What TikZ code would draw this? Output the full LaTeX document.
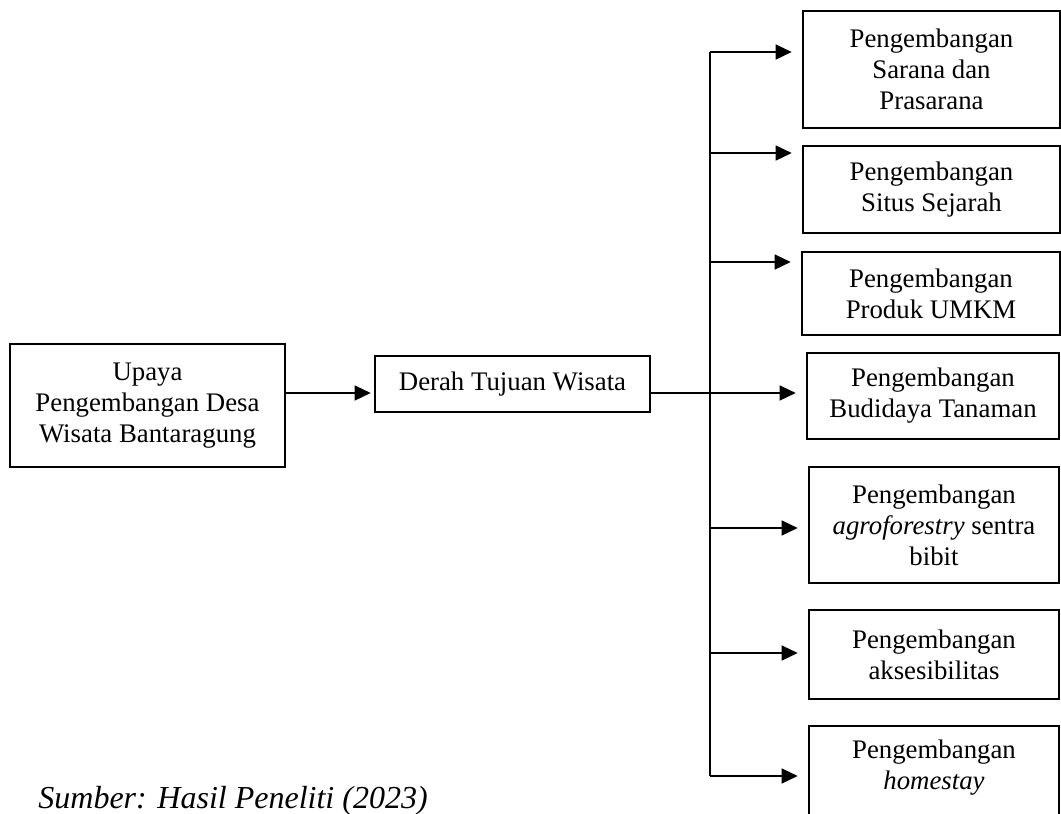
\documentclass[tikz,border=0pt]{standalone}
\usepackage{fontspec}
\setmainfont{Liberation Serif}
\usetikzlibrary{arrows.meta}

\tikzset{
  box/.style={draw, line width=1.3pt, align=center, inner sep=0pt,
    font=\fontsize{13.4}{15.5}\selectfont},
  link/.style={line width=0.7pt},
  arr/.style={link, -{Triangle[length=8pt,width=7.5pt]}},
  branch/.style={arr, shorten >=5pt}
}

\begin{document}
\begin{tikzpicture}
% 1 unit = 1px of the 1061x814 sheet, y runs downward
[x=0.5pt, y=-0.5pt]
\useasboundingbox (0,0) rectangle (1061,814);
\clip (0,0) rectangle (1061,814);

% left side
\node[box, minimum width=137.5pt, minimum height=61.5pt] (upaya) at (147.5,405.5)
  {Upaya\\Pengembangan Desa\\Wisata Bantaragung};
\node[box, minimum width=137.5pt, minimum height=28pt] (derah) at (512.5,384)
  {Derah Tujuan Wisata};

% right column
\node[box, minimum width=128.5pt, minimum height=58.5pt] (sarana) at (931.5,69.5)
  {Pengembangan\\Sarana dan\\Prasarana};
\node[box, minimum width=128.5pt, minimum height=43.5pt] (situs) at (931.5,189.5)
  {Pengembangan\\Situs Sejarah};
\node[box, minimum width=129pt, minimum height=41.5pt] (produk) at (931,293.5)
  {Pengembangan\\Produk UMKM};
\node[box, minimum width=126pt, minimum height=43pt] (budidaya) at (933,396)
  {Pengembangan\\Budidaya Tanaman};
\node[box, minimum width=125pt, minimum height=58pt] (agro) at (934,525)
  {Pengembangan\\\textit{agroforestry} sentra\\bibit};
\node[box, minimum width=125pt, minimum height=44.5pt] (akses) at (934,654.5)
  {Pengembangan\\aksesibilitas};
% runs off the bottom of the sheet
\node[box, minimum width=125pt, minimum height=54pt] (homestay) at (934,780)
  {Pengembangan\\\textit{homestay}\\\mbox{}};

\node[anchor=base west, inner sep=0pt, font=\fontsize{16}{19}\selectfont\itshape]
  (sumber) at (38,808) {Sumber: Hasil Peneliti (2023)};

% connectors
\coordinate (mid) at (0,393);
\draw[arr] (upaya.east |- mid) -- ([xshift=-1.5pt]derah.west |- mid);
\draw[link] (derah.east |- mid) -- (710,393);
\draw[link] (710,52) coordinate (ttop) -- (710,776) coordinate (tbot);
\foreach \n/\y in {sarana/52,situs/153,produk/262,budidaya/393,agro/528,akses/653,homestay/776}{
  \draw[branch] (710,\y) coordinate (b\n) -- (b\n -| \n.west);
}
\end{tikzpicture}
\end{document}
